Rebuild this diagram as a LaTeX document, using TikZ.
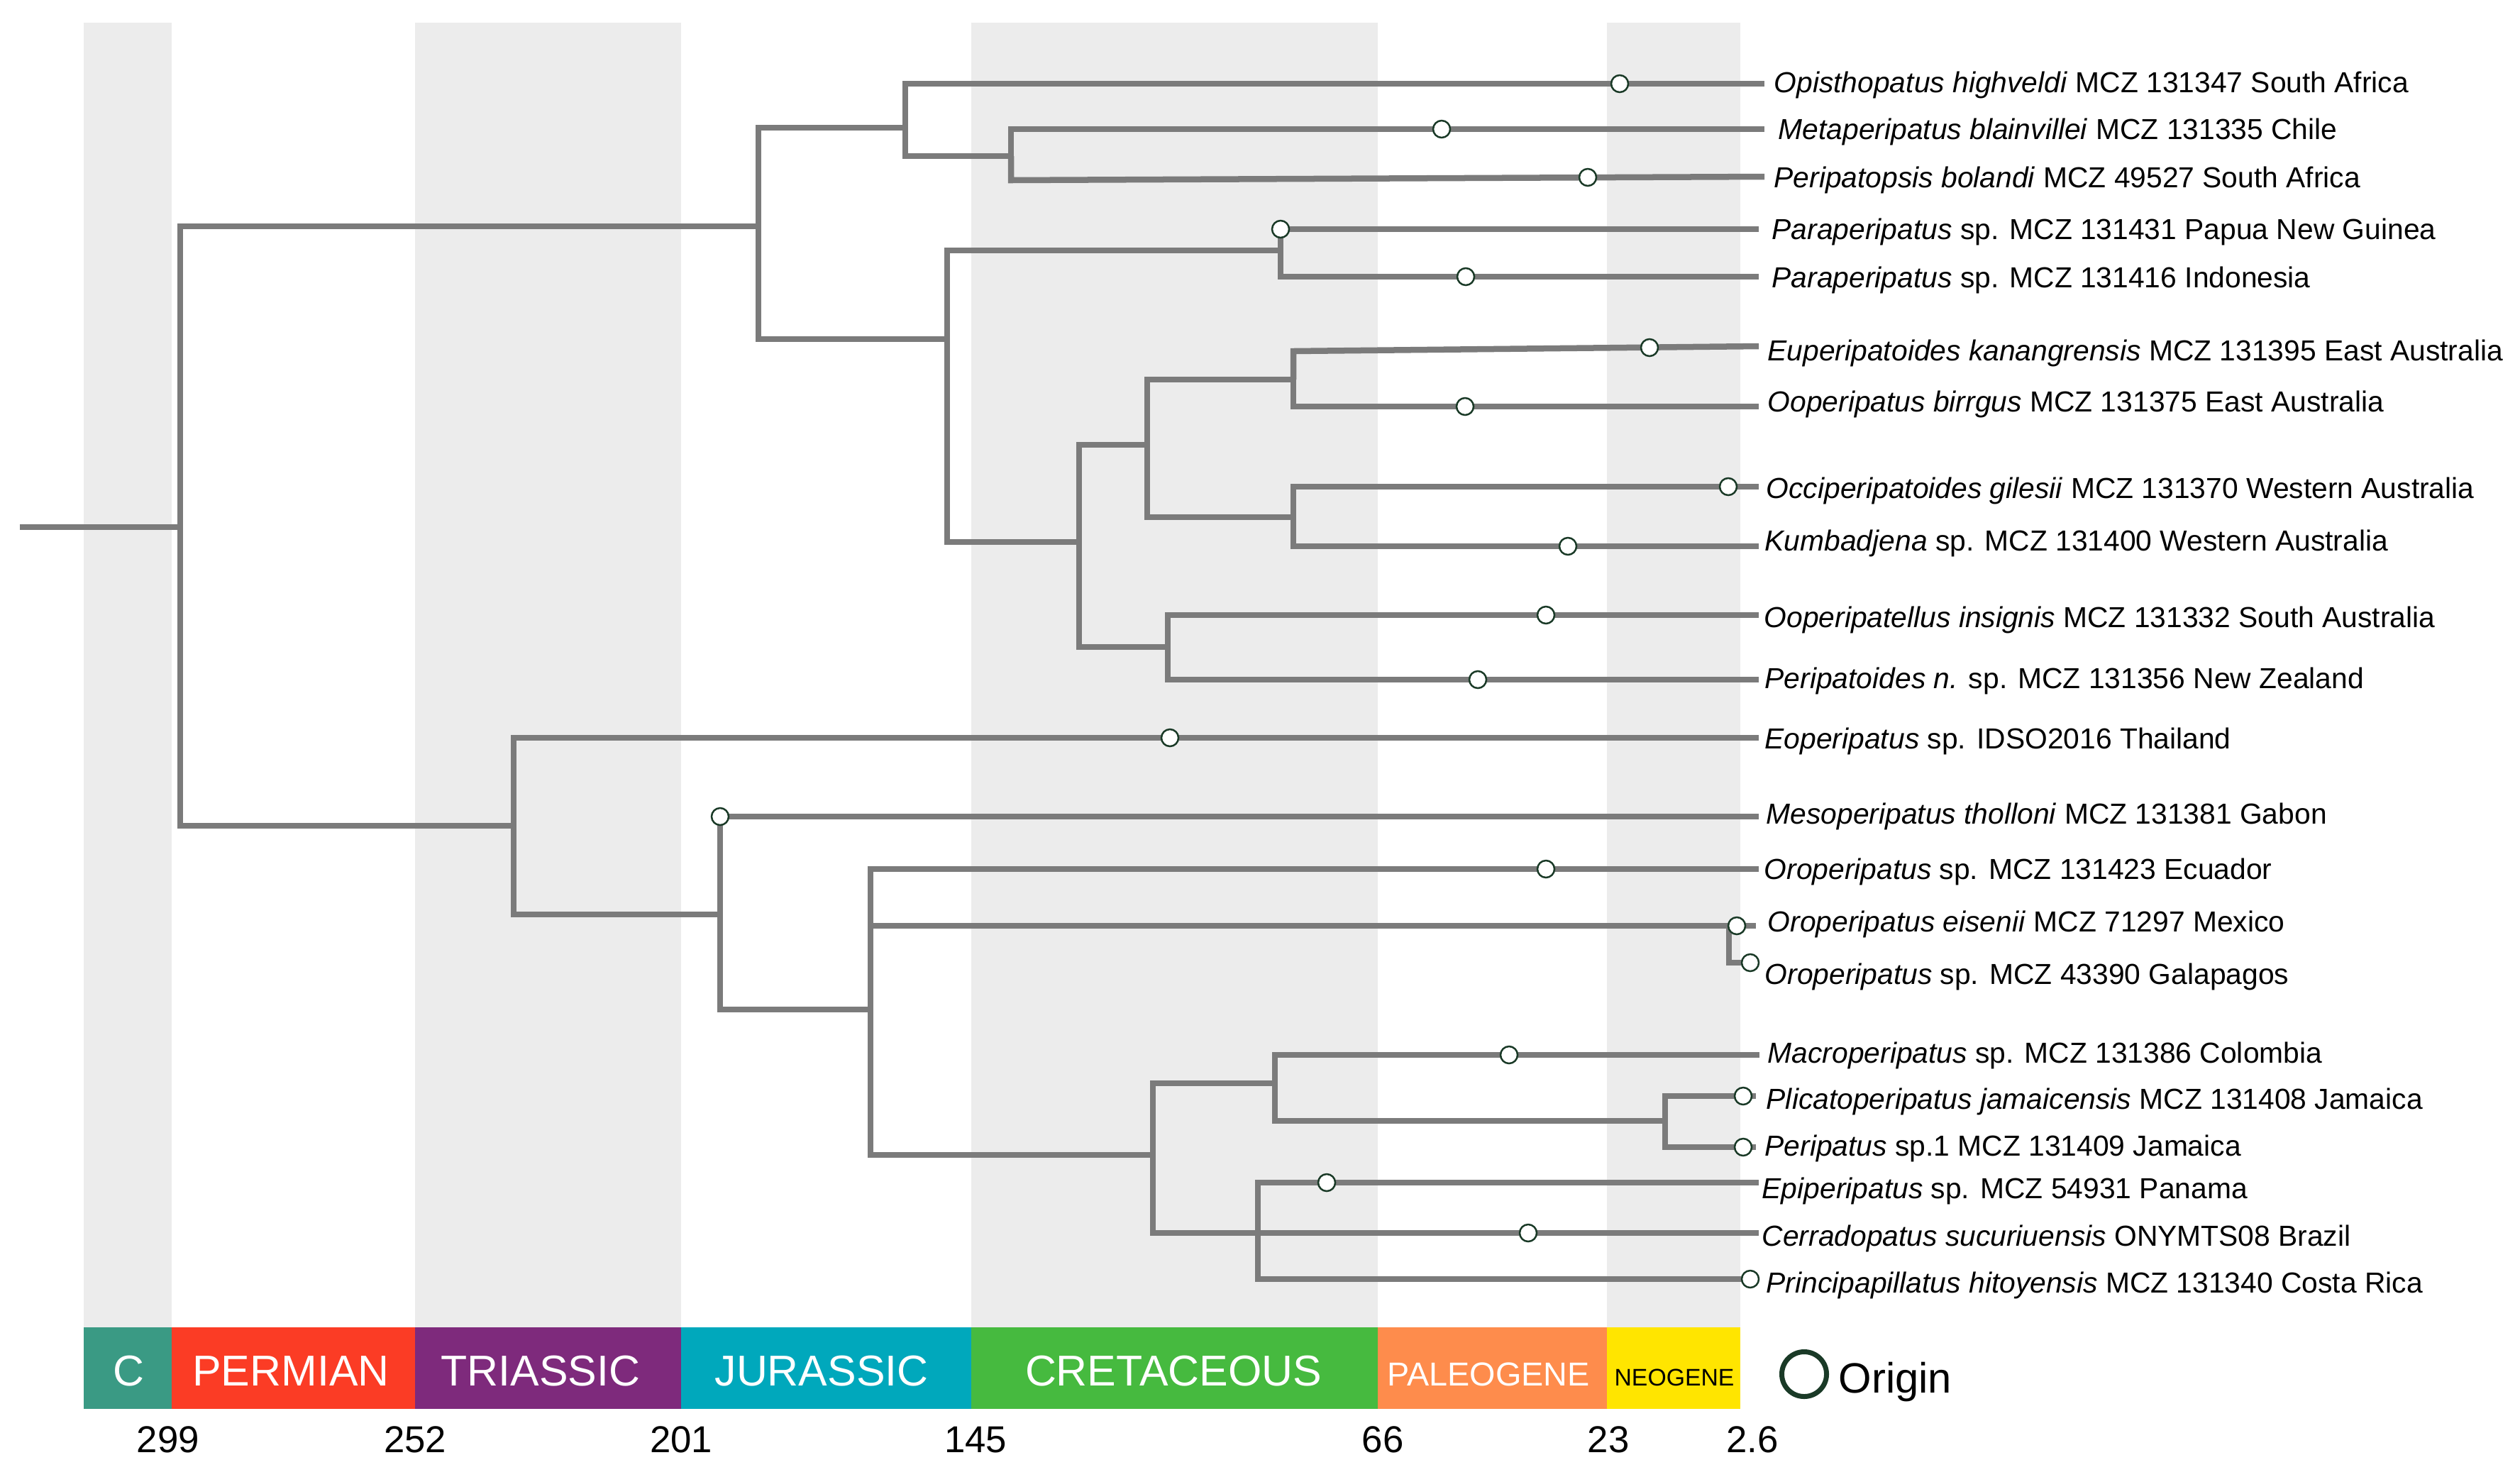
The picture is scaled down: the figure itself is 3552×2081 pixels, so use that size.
\documentclass[tikz,border=0pt]{standalone}
\usepackage{fontspec}
\setmainfont{Liberation Sans}
\definecolor{branch}{HTML}{7B7B7B}
\definecolor{origin}{HTML}{1A3A27}
\definecolor{stripe}{HTML}{ECECEC}
\definecolor{cC}{HTML}{3A9A84}
\definecolor{cP}{HTML}{FB3C25}
\definecolor{cT}{HTML}{7E2A7C}
\definecolor{cJ}{HTML}{00A8BC}
\definecolor{cK}{HTML}{46BA3F}
\definecolor{cPg}{HTML}{FE8C4C}
\definecolor{cN}{HTML}{FFE500}
\begin{document}
\begin{tikzpicture}[x=0.01cm,y=-0.01cm,
  br/.style={line width=0.085cm, draw=branch},
  orig/.style={circle, draw=origin, fill=white, line width=0.025cm, minimum size=0.24cm, inner sep=0pt},
  tip/.style={anchor=base west, inner sep=0pt, font=\fontsize{11.6}{13}\selectfont},
  per/.style={anchor=base, inner sep=0pt, text=white, font=\fontsize{17.3}{20}\selectfont},
  num/.style={anchor=base, inner sep=0pt, font=\fontsize{15}{18}\selectfont}]
\useasboundingbox (0,0) rectangle (3552,2081);
% background stripes
\fill[stripe] (118,32) rectangle (242,1871);
\fill[stripe] (585,32) rectangle (960,1871);
\fill[stripe] (1369,32) rectangle (1942,1871);
\fill[stripe] (2265,32) rectangle (2453,1871);
% period bar
\fill[cC] (118,1871) rectangle (242,1986);
\fill[cP] (242,1871) rectangle (585,1986);
\fill[cT] (585,1871) rectangle (960,1986);
\fill[cJ] (960,1871) rectangle (1369,1986);
\fill[cK] (1369,1871) rectangle (1942,1986);
\fill[cPg] (1942,1871) rectangle (2265,1986);
\fill[cN] (2265,1871) rectangle (2453,1986);
\node[per] (pC) at (181,1953) {C};
\node[per] (pP) at (410,1953) {PERMIAN};
\node[per] (pT) at (762,1953) {TRIASSIC};
\node[per] (pJ) at (1158,1953) {JURASSIC};
\node[per] (pK) at (1654,1953) {CRETACEOUS};
\node[per, font=\fontsize{13.3}{16}\selectfont] (pPg) at (2098,1953) {PALEOGENE};
\node[per, text=black, font=\fontsize{9.6}{12}\selectfont] (pN) at (2360,1953) {NEOGENE};
% ages
\node[num] (a1) at (237,2047) {299};
\node[num] (a2) at (585,2047) {252};
\node[num] (a3) at (960,2047) {201};
\node[num] (a4) at (1375,2047) {145};
\node[num] (a5) at (1949,2047) {66};
\node[num] (a6) at (2267,2047) {23};
\node[num] (a7) at (2470,2047) {2.6};
% legend
\node[circle, draw=origin, line width=0.07cm, minimum size=0.63cm, inner sep=0pt] (legc) at (2543,1937) {};
\node[anchor=base west, inner sep=0pt, font=\fontsize{17}{20}\selectfont] (legt) at (2591,1963) {Origin};
% internal nodes
\coordinate (r0) at (28,743);
\coordinate (nR) at (254,743);
\coordinate (nA) at (1069,319);
\coordinate (nB) at (1276,180);
\coordinate (nC) at (1425,220);
\coordinate (nD) at (1335,478);
\coordinate (nE) at (1805,353);
\coordinate (nF) at (1521,764);
\coordinate (nG) at (1617,627);
\coordinate (nH) at (1823,535);
\coordinate (nI) at (1823,729);
\coordinate (nJ) at (1646,912);
\coordinate (nK) at (724,1164);
\coordinate (nL) at (1015,1289);
\coordinate (nM) at (1227,1423);
\coordinate (nN) at (2437,1305);
\coordinate (nO) at (1625,1628);
\coordinate (nP) at (1797,1527);
\coordinate (nQ) at (2347,1580);
\coordinate (nS) at (1773,1738);
\coordinate (c1) at (1425,254);
\coordinate (h1) at (1823,495);
% tip ends
\coordinate (t1) at (2487,118);
\coordinate (t2) at (2487,182);
\coordinate (t3) at (2487,249);
\coordinate (t4) at (2479,323);
\coordinate (t5) at (2479,390);
\coordinate (t6) at (2479,488);
\coordinate (t7) at (2479,573);
\coordinate (t8) at (2479,686);
\coordinate (t9) at (2479,770);
\coordinate (t10) at (2479,867);
\coordinate (t11) at (2479,958);
\coordinate (t12) at (2479,1040);
\coordinate (t13) at (2479,1151);
\coordinate (t14) at (2479,1225);
\coordinate (t15) at (2475,1305);
\coordinate (t16) at (2467,1357);
\coordinate (t17) at (2480,1487);
\coordinate (t18) at (2475,1545);
\coordinate (t19) at (2475,1617);
\coordinate (t20) at (2479,1667);
\coordinate (t21) at (2479,1738);
\coordinate (t22) at (2479,1803);
% branches
\draw[br] (r0) -- (nR);
\draw[br] (nR) |- (nA);
\draw[br] (nR) |- (nK);
\draw[br] (nA) |- (nB);
\draw[br] (nA) |- (nD);
\draw[br] (nB) |- (t1);
\draw[br] (nB) |- (nC);
\draw[br] (nC) |- (t2);
\draw[br] (nC) |- (c1) -- (t3);
\draw[br] (nD) |- (nE);
\draw[br] (nD) |- (nF);
\draw[br] (nE) |- (t4);
\draw[br] (nE) |- (t5);
\draw[br] (nF) |- (nG);
\draw[br] (nF) |- (nJ);
\draw[br] (nG) |- (nH);
\draw[br] (nG) |- (nI);
\draw[br] (nH) |- (h1) -- (t6);
\draw[br] (nH) |- (t7);
\draw[br] (nI) |- (t8);
\draw[br] (nI) |- (t9);
\draw[br] (nJ) |- (t10);
\draw[br] (nJ) |- (t11);
\draw[br] (nK) |- (t12);
\draw[br] (nK) |- (nL);
\draw[br] (nL) |- (t13);
\draw[br] (nL) |- (nM);
\draw[br] (nM) |- (t14);
\draw[br] (nM) |- (nN);
\draw[br] (nM) |- (nO);
\draw[br] (nN) |- (t15);
\draw[br] (nN) |- (t16);
\draw[br] (nO) |- (nP);
\draw[br] (nO) |- (nS);
\draw[br] (nP) |- (t17);
\draw[br] (nP) |- (nQ);
\draw[br] (nQ) |- (t18);
\draw[br] (nQ) |- (t19);
\draw[br] (nS) |- (t20);
\draw[br] (nS) |- (t21);
\draw[br] (nS) |- (t22);
% origin markers
\node[orig] (o1) at (2283,118) {};
\node[orig] (o2) at (2032,182) {};
\node[orig] (o3) at (2238,250) {};
\node[orig] (o4) at (1805,323) {};
\node[orig] (o5) at (2066,390) {};
\node[orig] (o6) at (2325,490) {};
\node[orig] (o7) at (2065,573) {};
\node[orig] (o8) at (2436,686) {};
\node[orig] (o9) at (2210,770) {};
\node[orig] (o10) at (2179,867) {};
\node[orig] (o11) at (2083,958) {};
\node[orig] (o12) at (1649,1040) {};
\node[orig] (o13) at (1015,1151) {};
\node[orig] (o14) at (2179,1225) {};
\node[orig] (o15) at (2448,1305) {};
\node[orig] (o16) at (2467,1357) {};
\node[orig] (o17) at (2127,1487) {};
\node[orig] (o18) at (2457,1545) {};
\node[orig] (o19) at (2457,1617) {};
\node[orig] (o20) at (1870,1667) {};
\node[orig] (o21) at (2154,1738) {};
\node[orig] (o22) at (2467,1803) {};
% labels
\node[tip] (l1) at (2500,130) {\textit{Opisthopatus highveldi} MCZ 131347 South Africa};
\node[tip] (l2) at (2506,196) {\textit{Metaperipatus blainvillei} MCZ 131335 Chile};
\node[tip] (l3) at (2500,264) {\textit{Peripatopsis bolandi} MCZ 49527 South Africa};
\node[tip] (l4) at (2497,337) {\textit{Paraperipatus} sp. MCZ 131431 Papua New Guinea};
\node[tip] (l5) at (2497,405) {\textit{Paraperipatus} sp. MCZ 131416 Indonesia};
\node[tip] (l6) at (2491,508) {\textit{Euperipatoides kanangrensis} MCZ 131395 East Australia};
\node[tip] (l7) at (2491,580) {\textit{Ooperipatus birrgus} MCZ 131375 East Australia};
\node[tip] (l8) at (2489,702) {\textit{Occiperipatoides gilesii} MCZ 131370 Western Australia};
\node[tip] (l9) at (2487,776) {\textit{Kumbadjena} sp. MCZ 131400 Western Australia};
\node[tip] (l10) at (2486,884) {\textit{Ooperipatellus insignis} MCZ 131332 South Australia};
\node[tip] (l11) at (2487,970) {\textit{Peripatoides n.} sp. MCZ 131356 New Zealand};
\node[tip] (l12) at (2487,1055) {\textit{Eoperipatus} sp. IDSO2016 Thailand};
\node[tip] (l13) at (2489,1161) {\textit{Mesoperipatus tholloni} MCZ 131381 Gabon};
\node[tip] (l14) at (2486,1239) {\textit{Oroperipatus} sp. MCZ 131423 Ecuador};
\node[tip] (l15) at (2491,1313) {\textit{Oroperipatus eisenii} MCZ 71297 Mexico};
\node[tip] (l16) at (2487,1387) {\textit{Oroperipatus} sp. MCZ 43390 Galapagos};
\node[tip] (l17) at (2491,1498) {\textit{Macroperipatus} sp. MCZ 131386 Colombia};
\node[tip] (l18) at (2489,1563) {\textit{Plicatoperipatus jamaicensis} MCZ 131408 Jamaica};
\node[tip] (l19) at (2487,1629) {\textit{Peripatus} sp.1 MCZ 131409 Jamaica};
\node[tip] (l20) at (2483,1689) {\textit{Epiperipatus} sp. MCZ 54931 Panama};
\node[tip] (l21) at (2483,1756) {\textit{Cerradopatus sucuriuensis} ONYMTS08 Brazil};
\node[tip] (l22) at (2489,1822) {\textit{Principapillatus hitoyensis} MCZ 131340 Costa Rica};
\end{tikzpicture}
\end{document}
